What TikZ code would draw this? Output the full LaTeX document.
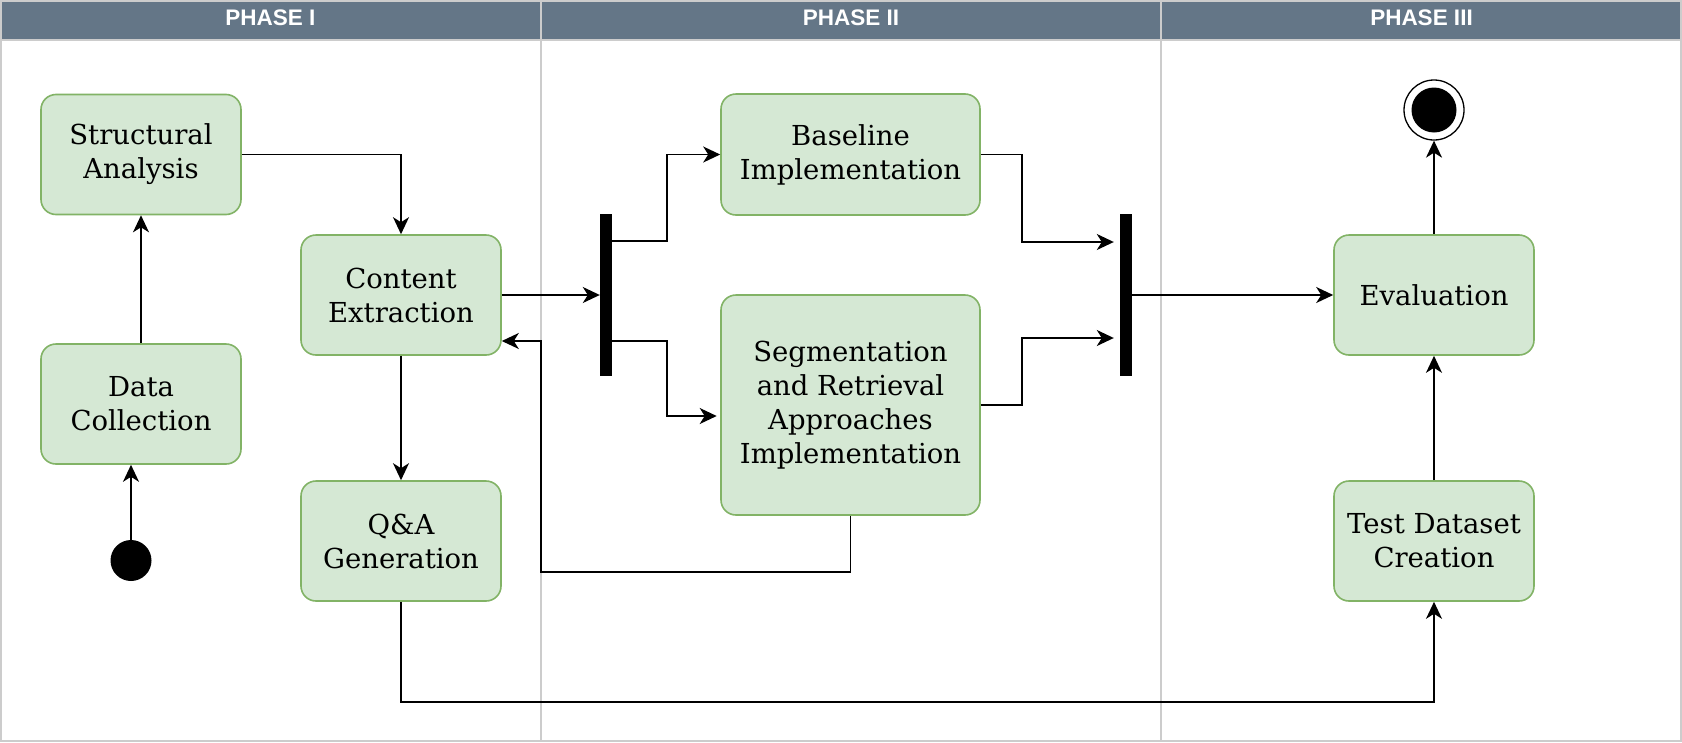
\documentclass[tikz,border=0pt]{standalone}
\usepackage{fontspec}
\newfontfamily\nodeserif{DejaVu Serif}
\newfontfamily\hdrfont{Liberation Sans}
\usetikzlibrary{arrows.meta,calc}
\definecolor{hdrfill}{HTML}{647687}
\definecolor{lanegray}{HTML}{CCCCCC}
\definecolor{boxgreen}{HTML}{82B366}
\definecolor{boxfill}{HTML}{D5E8D4}
\tikzset{
  actbox/.style={draw=boxgreen, fill=boxfill, line width=1.6pt, rounded corners=15pt,
    align=center, inner sep=0pt, font=\nodeserif\fontsize{27.5}{34}\selectfont},
  forkbar/.style={fill=black, inner sep=0pt, minimum width=12pt, minimum height=162pt},
  hdr/.style={text=white, font=\hdrfont\bfseries\fontsize{22.5}{26}\selectfont, inner sep=0pt},
  arr/.style={-{Stealth[length=17pt,width=16pt,inset=5pt]}, line width=1.7pt},
}
\begin{document}
\begin{tikzpicture}[x=1pt,y=-1pt]
\useasboundingbox (0,0) rectangle (1682,742);
% swimlanes
\fill[white] (0,0) rectangle (1682,742);
\fill[hdrfill] (1,1) rectangle (1681,40);
\draw[lanegray, line width=2pt] (1,1) rectangle (1681,741);
\draw[lanegray, line width=1.5pt] (1,40) -- (1681,40);
\draw[lanegray, line width=1.5pt] (541,1) -- (541,741);
\draw[lanegray, line width=1.5pt] (1161,1) -- (1161,741);
\node[hdr] (h1) at (270.5,18) {PHASE I};
\node[hdr] (h2) at (851,18) {PHASE II};
\node[hdr] (h3) at (1421.5,18) {PHASE III};
% nodes
\node[actbox, minimum width=200pt, minimum height=120pt] (sa) at (141,154.5) {Structural\\Analysis};
\node[actbox, minimum width=200pt, minimum height=120pt] (dc) at (141,404) {Data\\Collection};
\node[actbox, minimum width=200pt, minimum height=120pt] (ce) at (401,295) {Content\\Extraction};
\node[actbox, minimum width=200pt, minimum height=120pt] (qa) at (401,541) {Q\&A\\Generation};
\node[circle, fill=black, inner sep=0pt, minimum size=41pt] (start) at (131,560.5) {};
\node[forkbar] (bar1) at (606,295) {};
\node[actbox, minimum width=259pt, minimum height=121pt] (bl) at (850.5,154.5) {Baseline\\Implementation};
\node[actbox, minimum width=259pt, minimum height=220pt] (seg) at (850.5,405) {Segmentation\\and Retrieval\\Approaches\\Implementation};
\node[forkbar] (bar2) at (1126,295) {};
\node[actbox, minimum width=200pt, minimum height=120pt] (ev) at (1434,295) {Evaluation};
\node[actbox, minimum width=200pt, minimum height=120pt] (td) at (1434,541) {Test Dataset\\Creation};
\node[circle, draw=black, fill=white, line width=1.3pt, inner sep=0pt, minimum size=60pt] (fin) at (1434,110) {};
\node[circle, fill=black, inner sep=0pt, minimum size=45pt] (finin) at (fin.center) {};
% connectors
\draw[arr] (start.north) -- (start.north |- dc.south);
\draw[arr] (dc.north) -- (sa.south);
\draw[arr] (sa.east) -| (ce.north);
\draw[arr] (ce.east) -- (bar1.west);
\draw[arr] (ce.south) -- (qa.north);
\draw[arr] ([yshift=54pt]bar1.east) -- ++(54.7,0) |- (bl.west);
\draw[arr] ([yshift=-46pt]bar1.east) -- ++(54.7,0) |- ([yshift=-11pt,xshift=-3.5pt]seg.west);
\draw[arr] (bl.east) -- ++(41,0) |- ([yshift=53pt,xshift=-6pt]bar2.west);
\draw[arr] (seg.east) -- ++(41,0) |- ([yshift=-43pt,xshift=-6pt]bar2.west);
\draw[arr] (bar2.east) -- (ev.west);
\draw[arr] (seg.south) -- ++(0,56) -- ++(-309.5,0) |- ([yshift=-46pt]ce.east);
\draw[arr] (qa.south) -- ++(0,100.5) -| (td.south);
\draw[arr] (td.north) -- (ev.south);
\draw[arr] (ev.north) -- (fin.south);
\end{tikzpicture}
\end{document}
